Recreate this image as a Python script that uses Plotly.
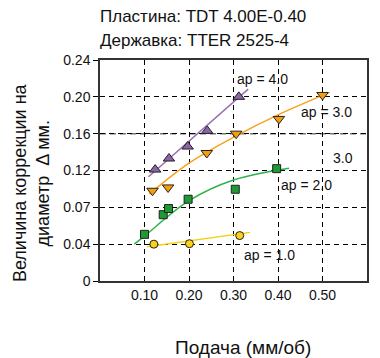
import numpy as np
import plotly.graph_objects as go

# подписи оси Y идут неравномерно, но деления стоят через равный шаг
y_labels = [0, 0.04, 0.07, 0.12, 0.16, 0.20, 0.24]
x_ticks = [0.10, 0.20, 0.30, 0.40, 0.50, 0.60]

# ap = 4.0
ap4_x = [0.124, 0.155, 0.197, 0.241, 0.312]
ap4_y = [0.121, 0.133, 0.146, 0.163, 0.200]
ap4_fit_x = [0.109, 0.333]
ap4_fit_y = [0.1115, 0.2084]

# ap = 3.0
ap3_x = [0.118, 0.153, 0.240, 0.306, 0.402, 0.500]
ap3_y = [0.0925, 0.097, 0.139, 0.160, 0.176, 0.202]
ap3_fit_x = [0.111, 0.200, 0.306, 0.400, 0.516]
ap3_fit_y = [0.088, 0.128, 0.1576, 0.1804, 0.2048]

# ap = 2.0
ap2_x = [0.100, 0.142, 0.154, 0.198, 0.304, 0.397]
ap2_y = [0.048, 0.064, 0.069, 0.081, 0.0945, 0.122]
ap2_fit_x = [0.077, 0.100, 0.200, 0.300, 0.425]
ap2_fit_y = [0.040, 0.0466, 0.079, 0.107, 0.1224]

# ap = 1.0
ap1_x = [0.121, 0.201, 0.314]
ap1_y = [0.040, 0.0404, 0.047]
ap1_fit_x = [0.106, 0.337]
ap1_fit_y = [0.0372, 0.0496]


def pos(v):
    # значение в мм -> положение на оси с неравномерными подписями
    return np.interp(v, y_labels, list(range(len(y_labels))))


FONT = "Liberation Sans, Arial, sans-serif"
NARROW = "Liberation Sans Narrow, Liberation Sans, Arial, sans-serif"
GRID_DASH = "5px,4px"

series = [
    (ap4_x, ap4_y, ap4_fit_x, ap4_fit_y, "#9a6fb0", "#8a64a6", "triangle-up", 10, "linear"),
    (ap3_x, ap3_y, ap3_fit_x, ap3_fit_y, "#f7a21b", "#f59e0b", "triangle-down", 10, "spline"),
    (ap2_x, ap2_y, ap2_fit_x, ap2_fit_y, "#2db34a", "#1e9a33", "square", 8, "spline"),
    (ap1_x, ap1_y, ap1_fit_x, ap1_fit_y, "#f5d010", "#fcd116", "circle", 8, "linear"),
]

fig = go.Figure()
for xs, ys, fx, fy, lc, mc, sym, ms, shape in series:
    fig.add_trace(go.Scatter(x=fx, y=pos(fy), mode="lines",
                             line=dict(color=lc, width=1.5, shape=shape),
                             hoverinfo="skip"))
    fig.add_trace(go.Scatter(x=xs, y=pos(ys), mode="markers",
                             marker=dict(symbol=sym, size=ms, color=mc,
                                         line=dict(color="#222222", width=1))))

# линия сетки 0.16 в оригинале серая и толще
fig.add_shape(type="line", xref="paper", x0=0, x1=1, y0=4, y1=4,
              line=dict(color="#777777", width=1.5, dash="6px,4px"), layer="below")

labels = [
    ("ap = 4.0", 0.366, 5.49),
    ("ap = 3.0", 0.508, 4.59),
    ("3.0", 0.546, 3.34),
    ("ap = 2.0", 0.465, 2.61),
    ("ap = 1.0", 0.382, 0.71),
]
for txt, x, y in labels:
    fig.add_annotation(x=x, y=y, text=txt, showarrow=False,
                       font=dict(family=FONT, size=14, color="#111111"))

fig.add_annotation(x=0, y=1.0, xref="paper", yref="paper", yshift=44, xshift=-2,
                   text="Пластина: TDT 4.00E-0.40", showarrow=False,
                   xanchor="left", yanchor="middle",
                   font=dict(family=NARROW, size=17, color="#111111"))
fig.add_annotation(x=0, y=1.0, xref="paper", yref="paper", yshift=20, xshift=-2,
                   text="Державка: TTER 2525-4", showarrow=False,
                   xanchor="left", yanchor="middle",
                   font=dict(family=NARROW, size=17, color="#111111"))
fig.add_annotation(x=0, y=0.443, xref="paper", yref="paper", xshift=-69,
                   xanchor="center", yanchor="middle",
                   text="Величина коррекции на<br>диаметр  Δ мм.",
                   textangle=-90, showarrow=False,
                   font=dict(family=NARROW, size=18, color="#111111"))
fig.add_annotation(x=0.536, y=0, xref="paper", yref="paper", yshift=-66,
                   xanchor="center", yanchor="middle",
                   text="Подача (мм/об)", showarrow=False,
                   font=dict(family=FONT, size=19, color="#111111"))

# страница добавляет отступ 8px, поэтому размер и поля чуть меньше
fig.update_layout(
    width=372, height=350,
    margin=dict(l=92, r=13, t=52, b=77),
    plot_bgcolor="white", paper_bgcolor="white",
    showlegend=False,
    font=dict(family=FONT, size=14, color="#111111"),
    xaxis=dict(range=[0, 0.6], tickvals=x_ticks, tickformat=".2f",
               showgrid=True, gridcolor="black", griddash=GRID_DASH, gridwidth=1,
               showline=True, linecolor="#333333", linewidth=1.5, mirror=True,
               ticks="inside", ticklen=5, tickcolor="black", zeroline=False),
    yaxis=dict(range=[0, 6], tickvals=list(range(len(y_labels))),
               ticktext=[f"{v:.2f}" if v else "0" for v in y_labels],
               showgrid=True, gridcolor="black", griddash=GRID_DASH, gridwidth=1,
               showline=True, linecolor="#333333", linewidth=1.5, mirror=True,
               ticks="outside", ticklen=5, tickcolor="black", zeroline=False),
)

fig.write_html("out.html")
